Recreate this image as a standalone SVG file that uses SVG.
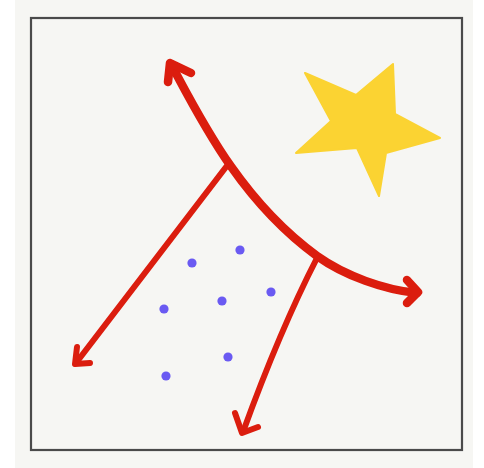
<svg xmlns="http://www.w3.org/2000/svg" width="484" height="468" viewBox="0 0 484 468">
<style>
.bg{fill:#ffffff}
.paper{fill:#f6f6f3}
.frame{fill:none;stroke:#4a4a4a;stroke-width:2.2}
.arrow{fill:none;stroke:#db1d0e;stroke-linecap:round;stroke-linejoin:round}
.thick{stroke-width:8.5}
.thin{stroke-width:6}
.dot{fill:#6a5af2}
.star{fill:#fbd332;stroke:#fbd332;stroke-width:2;stroke-linejoin:round}
</style>
<rect class="bg" x="0" y="0" width="484" height="468"/>
<rect class="paper" x="15" y="0" width="458" height="468"/>
<rect id="frame" class="frame" x="31" y="18" width="431" height="432"/>
<g id="star">
<polygon class="star" points="305,73 356,95 393,64 395,114 440,138 386,153 379,196 357,148 296,153 331,121"/>
</g>
<g id="dots">
<circle class="dot" cx="240" cy="250" r="4.6"/>
<circle class="dot" cx="192" cy="263" r="4.6"/>
<circle class="dot" cx="271" cy="292" r="4.6"/>
<circle class="dot" cx="222" cy="301" r="4.6"/>
<circle class="dot" cx="164" cy="309" r="4.6"/>
<circle class="dot" cx="228" cy="357" r="4.6"/>
<circle class="dot" cx="166" cy="376" r="4.6"/>
</g>
<g id="connectors">
<path id="curve" class="arrow thick" d="M171,64 C200,118 240,200 317,256 C345,276 385,290 417,293"/>
<path class="arrow thick" d="M168,82 L170,63 L191,73"/>
<path class="arrow thick" d="M407,280 L418,292 L407,303"/>
<path id="left-arrow" class="arrow thin" d="M226,167 L76,363"/>
<path class="arrow thin" d="M77,347 L75,364 L90,363"/>
<path id="down-arrow" class="arrow thin" d="M317,258 Q280,330 243,432"/>
<path class="arrow thin" d="M235,413 L242,433 L258,427"/>
</g>
</svg>
